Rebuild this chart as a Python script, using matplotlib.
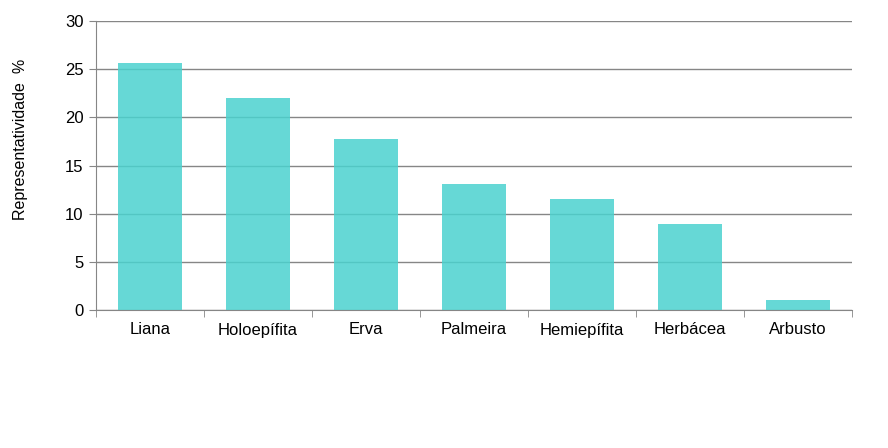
import matplotlib.pyplot as plt
import numpy as np

plt.rcParams["font.family"] = ["Liberation Sans", "DejaVu Sans"]

categories = ["Liana", "Holoepífita", "Erva", "Palmeira", "Hemiepífita", "Herbácea", "Arbusto"]
values = [25.6, 22.0, 17.75, 13.1, 11.5, 8.9, 1.05]

fig = plt.figure(figsize=(8.88, 4.48), dpi=100)
ax = fig.add_axes([96 / 888, 1 - 310 / 448, (852 - 96) / 888, (310 - 21) / 448])

x = np.arange(len(categories))
# slightly transparent bars so the grid shows through, as in the original
ax.bar(x, values, width=0.59, color="#4bd2cf", alpha=0.85, zorder=2)
ax.set_xlim(-0.5, len(categories) - 0.5)
ax.set_ylim(0, 30)
ax.set_yticks(range(0, 31, 5))
ax.yaxis.grid(True, color="#868686", linewidth=1)
ax.set_axisbelow(True)

ax.set_xticks(x)
ax.set_xticklabels(categories)
ax.set_xticks(np.arange(-0.5, len(categories)), minor=True)
ax.tick_params(axis="x", which="major", length=0, pad=9, labelsize=12)
ax.tick_params(axis="x", which="minor", length=5, color="#868686", direction="out")
ax.tick_params(axis="y", length=5, color="#868686", labelsize=12, pad=4)

for s in ["top", "right"]:
    ax.spines[s].set_visible(False)
for s in ["left", "bottom"]:
    ax.spines[s].set_color("#868686")
    ax.spines[s].set_zorder(4)

ax.set_ylabel("Representatividade  %", fontsize=11.5, va="center")
ax.yaxis.set_label_coords(-0.1005, 0.59)

fig.savefig("out.png", dpi=100)
